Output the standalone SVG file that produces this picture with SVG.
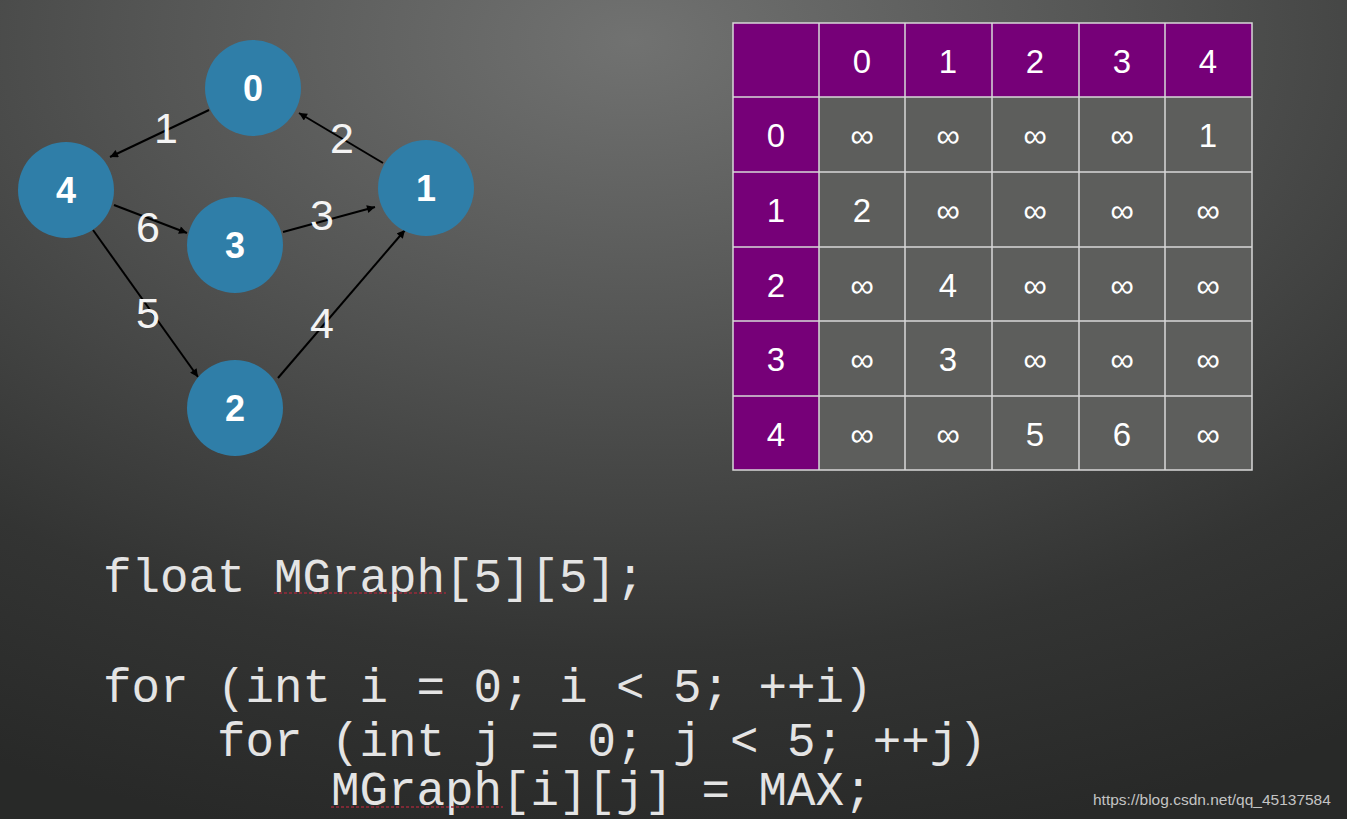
<svg xmlns="http://www.w3.org/2000/svg" width="1347" height="819" viewBox="0 0 1347 819">
<defs>
<radialGradient id="bg" cx="0.47" cy="0.05" r="1.0" gradientUnits="objectBoundingBox">
<stop offset="0" stop-color="#717271"/>
<stop offset="0.35" stop-color="#555655"/>
<stop offset="0.75" stop-color="#333433"/>
<stop offset="1" stop-color="#282928"/>
</radialGradient>
<marker id="arr" viewBox="0 0 10 10" refX="10" refY="5" markerWidth="9" markerHeight="8" orient="auto" markerUnits="userSpaceOnUse">
<path d="M0,0 L10,5 L0,10 z" fill="#000"/>
</marker>
<style>
.node{fill:#2f7ea8}
.nl{font-family:"Liberation Sans",Arial,sans-serif;font-weight:bold;font-size:36px;fill:#fff;text-anchor:middle}
.el{font-family:"Liberation Sans",Arial,sans-serif;font-size:43px;fill:#f4f4f4;text-anchor:middle}
.edge{stroke:#000;stroke-width:2;fill:none;marker-end:url(#arr)}
.hd{fill:#760078}
.cell{fill:#5d5e5c}
.grid{stroke:#d8d8d8;stroke-width:1.5;fill:none}
.tt{font-family:"Liberation Sans",Arial,sans-serif;font-size:33px;fill:#fff;text-anchor:middle}
.code{font-family:"Liberation Mono","Courier New",monospace;font-size:47.5px;fill:#e4e4e4}
.sq{stroke:#9a2a3a;stroke-width:1.5;fill:none;stroke-dasharray:3 2}
</style>
</defs>
<rect width="1347" height="819" fill="url(#bg)"/>

<g id="connectors">
<line class="edge" x1="209" y1="110" x2="110" y2="157"/>
<line class="edge" x1="383" y1="163" x2="299" y2="113"/>
<line class="edge" x1="114" y1="205" x2="187" y2="233"/>
<line class="edge" x1="283" y1="232" x2="375" y2="207"/>
<line class="edge" x1="93" y1="230" x2="198" y2="377"/>
<line class="edge" x1="278" y1="378" x2="405" y2="230"/>
<text class="el" x="166" y="143">1</text>
<text class="el" x="342" y="153">2</text>
<text class="el" x="148" y="242">6</text>
<text class="el" x="322" y="230">3</text>
<text class="el" x="148" y="328">5</text>
<text class="el" x="322" y="338">4</text>
</g>

<g id="node0"><circle class="node" cx="253" cy="88" r="48"/><text class="nl" x="253" y="101">0</text></g>
<g id="node1"><circle class="node" cx="426" cy="188" r="48"/><text class="nl" x="426" y="201">1</text></g>
<g id="node2"><circle class="node" cx="235" cy="408" r="48"/><text class="nl" x="235" y="421">2</text></g>
<g id="node3"><circle class="node" cx="235" cy="245" r="48"/><text class="nl" x="235" y="258">3</text></g>
<g id="node4"><circle class="node" cx="66" cy="190" r="48"/><text class="nl" x="66" y="203">4</text></g>

<g id="table">
<rect class="cell" x="819" y="97" width="433" height="373"/>
<rect class="hd" x="733" y="23" width="519" height="74"/>
<rect class="hd" x="733" y="97" width="86" height="373"/>
<path class="grid" d="M733,23H1252V470H733Z M733,97H1252 M733,172H1252 M733,247H1252 M733,321H1252 M733,396H1252 M819,23V470 M905,23V470 M992,23V470 M1079,23V470 M1165,23V470"/>
<g>
<text class="tt" x="862" y="73">0</text><text class="tt" x="948" y="73">1</text><text class="tt" x="1035" y="73">2</text><text class="tt" x="1122" y="73">3</text><text class="tt" x="1208" y="73">4</text>
<text class="tt" x="776" y="147">0</text><text class="tt" x="776" y="222">1</text><text class="tt" x="776" y="297">2</text><text class="tt" x="776" y="371">3</text><text class="tt" x="776" y="446">4</text>
<text class="tt" x="862" y="147">∞</text><text class="tt" x="948" y="147">∞</text><text class="tt" x="1035" y="147">∞</text><text class="tt" x="1122" y="147">∞</text><text class="tt" x="1208" y="147">1</text>
<text class="tt" x="862" y="222">2</text><text class="tt" x="948" y="222">∞</text><text class="tt" x="1035" y="222">∞</text><text class="tt" x="1122" y="222">∞</text><text class="tt" x="1208" y="222">∞</text>
<text class="tt" x="862" y="297">∞</text><text class="tt" x="948" y="297">4</text><text class="tt" x="1035" y="297">∞</text><text class="tt" x="1122" y="297">∞</text><text class="tt" x="1208" y="297">∞</text>
<text class="tt" x="862" y="371">∞</text><text class="tt" x="948" y="371">3</text><text class="tt" x="1035" y="371">∞</text><text class="tt" x="1122" y="371">∞</text><text class="tt" x="1208" y="371">∞</text>
<text class="tt" x="862" y="446">∞</text><text class="tt" x="948" y="446">∞</text><text class="tt" x="1035" y="446">5</text><text class="tt" x="1122" y="446">6</text><text class="tt" x="1208" y="446">∞</text>
</g>
</g>

<g id="code">
<text class="code" x="103" y="592" xml:space="preserve">float MGraph[5][5];</text>
<text class="code" x="103" y="702" xml:space="preserve">for (int i = 0; i &lt; 5; ++i)</text>
<text class="code" x="103" y="756" xml:space="preserve">    for (int j = 0; j &lt; 5; ++j)</text>
<text class="code" x="103" y="805" xml:space="preserve">        MGraph[i][j] = MAX;</text>
<path class="sq" d="M274,593 H446"/>
<path class="sq" d="M331,807 H503"/>
</g>

<text x="1093" y="805" font-family="Liberation Sans,Arial,sans-serif" font-size="15.5" fill="#c4c4c4">https://blog.csdn.net/qq_45137584</text>
</svg>
